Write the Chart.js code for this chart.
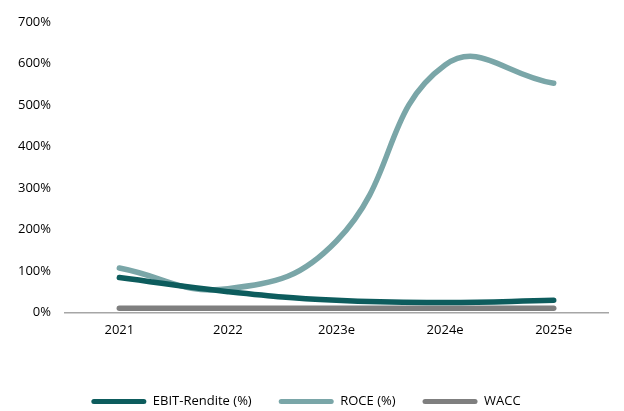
<!DOCTYPE html>
<html><head><meta charset="utf-8">
<script src="https://cdn.jsdelivr.net/npm/chart.js@4"></script>
<style>html,body{margin:0;padding:0;background:#fff}#wrap{width:624px;height:411px;position:relative}</style>
</head><body><div id="wrap"><canvas id="c"></canvas></div>
<script>
const categories = ["2021","2022","2023e","2024e","2025e"];
const ebitRendite = [84, 50, 29, 24, 29];
const roce = [107, 57, 172, 596, 552];
const wacc = [10, 10, 10, 10, 10];
const yTicks = [0,100,200,300,400,500,600,700];

const mk = (label, data, color) => ({label, data, borderColor: color, backgroundColor: color,
  borderWidth: 5.5, pointRadius: 0, tension: 0.45, borderCapStyle: 'round', fill: false});

new Chart(document.getElementById('c'), {
  type: 'line',
  data: { labels: categories, datasets: [
    mk('EBIT-Rendite (%)', ebitRendite, '#0d5c5d'),
    mk('ROCE (%)', roce, '#7aa6a8'),
    mk('WACC', wacc, '#7f7f7f')
  ]},
  options: {
    responsive: true, maintainAspectRatio: false, animation: false,
    layout: { padding: { left: 4, right: 16, top: 10, bottom: -7 } },
    plugins: {
      tooltip: {enabled: false},
      legend: { position: 'bottom',
        labels: { color: '#000', font: {family: 'Open Sans', size: 13}, boxWidth: 55, boxHeight: 5,
          useBorderRadius: true, borderRadius: 2.5, padding: 27,
          generateLabels: ch => Chart.defaults.plugins.legend.labels.generateLabels(ch).map(l => Object.assign(l, {lineWidth: 0})) } }
    },
    scales: {
      x: { offset: true, grid: {display: false, drawTicks: false}, border: {display: true, color: '#a6a6a6', width: 1.5},
        ticks: {color: '#000', font: {family: 'Open Sans', size: 13}, padding: 10},
        afterFit: s => { s.height += 20; } },
      y: { min: 0, max: 700, afterBuildTicks: a => { a.ticks = yTicks.map(v => ({value: v})); },
        grid: {display: false, drawTicks: false}, border: {display: false},
        ticks: {color: '#000', font: {family: 'Open Sans', size: 13}, padding: 14, callback: v => v + '%'} }
    }
  }
});
</script></body></html>
